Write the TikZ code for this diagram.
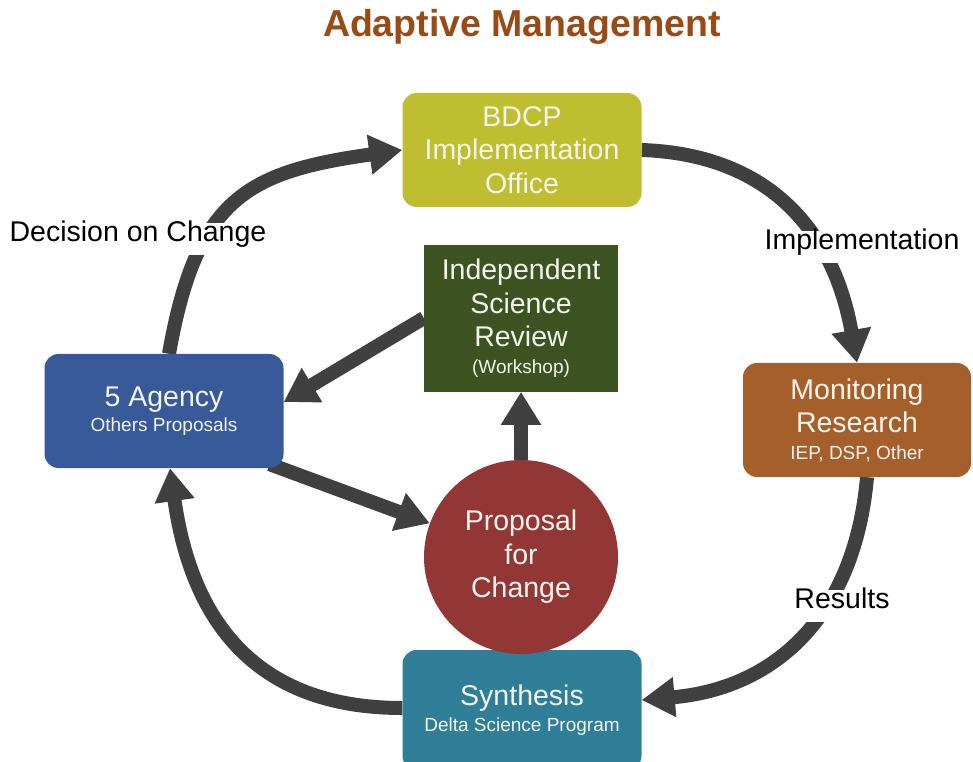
\documentclass[tikz,border=0pt]{standalone}
\usepackage{fontspec}
\setmainfont{Liberation Sans}
\usetikzlibrary{arrows.meta,positioning,backgrounds}
\definecolor{amTitle}{HTML}{9A4A14}
\definecolor{amInk}{HTML}{404040}
\definecolor{amOffice}{HTML}{BFBE31}
\definecolor{amReview}{HTML}{3D5322}
\definecolor{amAgency}{HTML}{385A98}
\definecolor{amMonitor}{HTML}{A55F2B}
\definecolor{amProposal}{HTML}{923636}
\definecolor{amSynth}{HTML}{2F7F99}
\definecolor{amText}{HTML}{F4F4EE}
\newcommand\amMain{\fontsize{28.5}{33.5}\selectfont}
\newcommand\amSub[1]{{\fontsize{19}{22}\selectfont #1}}
\tikzset{
  am/base/.style={align=center, text=amText, font=\amMain, inner sep=0pt},
  am/box/.style={am/base, rounded corners=14pt, minimum width=239pt,
    minimum height=114pt},
  am/office/.style={am/box, fill=amOffice},
  am/agency/.style={am/box, fill=amAgency},
  am/monitor/.style={am/box, fill=amMonitor, minimum width=228pt},
  am/synth/.style={am/box, fill=amSynth, minimum height=120pt},
  am/review/.style={am/base, fill=amReview, minimum width=194pt,
    minimum height=147pt},
  am/proposal/.style={am/base, circle, fill=amProposal, minimum size=194pt},
  am/flow/.style={-{Triangle[length=33pt,width=38pt]}, draw=amInk,
    line width=14pt},
  am/label/.style={fill=white, text=black, font=\amMain, text height=.75em,
    text depth=.25em, inner xsep=4pt, inner ysep=11pt},
  am/title/.style={font=\fontsize{37.5}{40}\selectfont\bfseries,
    text=amTitle},
}

\begin{document}
\begin{tikzpicture}[x=1pt, y=1pt]
\useasboundingbox (0,0) rectangle (973,761);
\node[am/title, anchor=base] (title) at (522,724) {Adaptive Management};
% the cycle
\node[am/office] (office) at (522,611) {BDCP\\Implementation\\Office};
\node[am/monitor] (monitor) at (857,341) {Monitoring\\Research\\[-7pt]\amSub{IEP, DSP, Other}};
\node[am/synth] (synth) at (522,51) {Synthesis\\[-8pt]\amSub{Delta Science Program}};
\node[am/agency] (agency) at (164,350) {5 Agency\\[-8pt]\amSub{Others Proposals}};
% inner loop
\node[am/proposal] (proposal) at (521,204) {Proposal\\for\\Change};
\node[am/review, above=68pt of proposal] (review) {Independent\\Science\\Review\\[-7pt]\amSub{(Workshop)}};
% arc labels sit on top of the arcs
\node[am/label] (decision) at (138,522) {Decision on Change};
\node[am/label] (implement) at (862,514) {Implementation};
\node[am/label] (results) at (842,155) {Results};
\begin{scope}[on background layer]
\draw[am/flow] ([xshift=5pt]agency.north) to[out=80, in=188, looseness=1.3] (office.west);
\draw[am/flow] (office.east) to[out=-2, in=100, looseness=1.1] (monitor.north);
\draw[am/flow] ([xshift=10pt]monitor.south) to[out=-95, in=5, looseness=1.1] ([yshift=10pt]synth.east);
\draw[am/flow] ([yshift=2pt]synth.west) to[out=180, in=-82, looseness=1.15] ([xshift=6pt]agency.south);
\draw[am/flow] (review.west) -- ([yshift=9pt]agency.east);
\draw[am/flow] ([xshift=-14pt,yshift=4pt]agency.south east) -- (proposal);
\draw[am/flow] (proposal) -- (review);
\end{scope}
\end{tikzpicture}
\end{document}
